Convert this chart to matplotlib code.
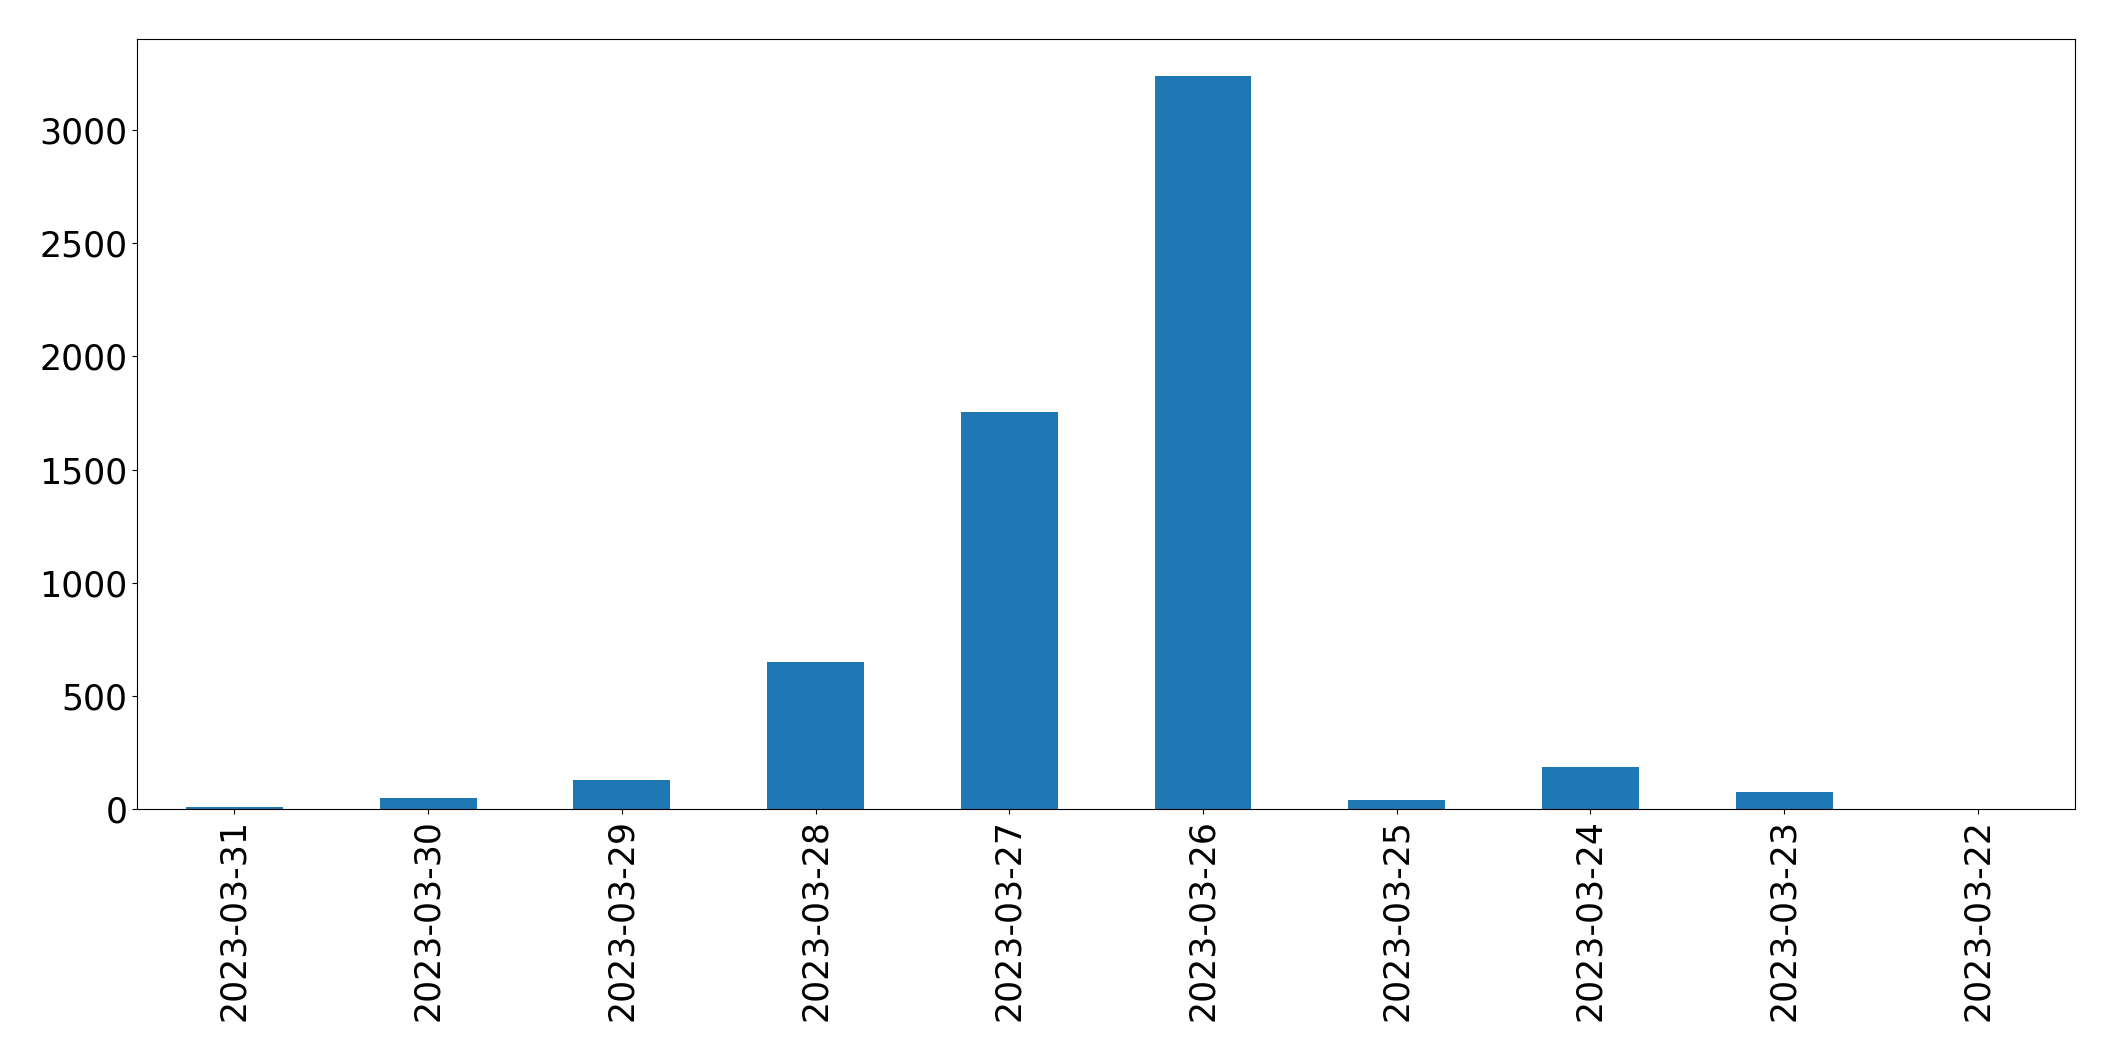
import matplotlib
matplotlib.use("Agg")
import matplotlib.pyplot as plt
import pandas as pd

# daily counts, newest first (as in the original value_counts order)
dates = ['2023-03-31', '2023-03-30', '2023-03-29', '2023-03-28', '2023-03-27',
         '2023-03-26', '2023-03-25', '2023-03-24', '2023-03-23', '2023-03-22']
counts = [9, 49, 128, 650, 1754, 3239, 40, 186, 75, 0]

s = pd.Series(counts, index=dates)

fig, ax = plt.subplots(figsize=(21.15, 10.61), dpi=100)
s.plot(kind='bar', ax=ax, color='#1f77b4', fontsize=25)
plt.xticks(rotation=90)
plt.subplots_adjust(left=0.065, right=0.981, top=0.963, bottom=0.2375)
plt.savefig('out.png', dpi=100)
